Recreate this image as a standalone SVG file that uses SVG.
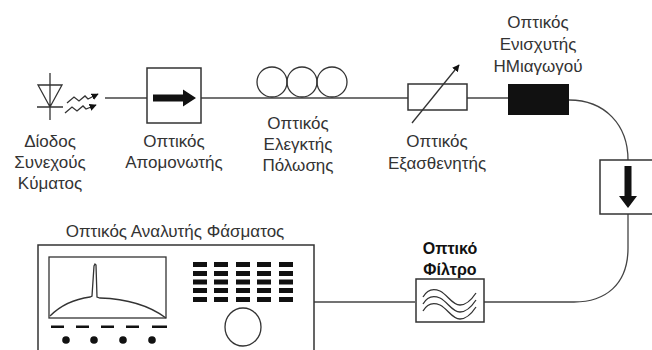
<svg xmlns="http://www.w3.org/2000/svg" width="652" height="350" viewBox="0 0 652 350">
  <style>
    .lbl { font-family: "Liberation Sans", Arial, sans-serif; font-size: 17px; fill: #333; text-anchor: middle; }
    .bold { font-weight: bold; fill: #111; font-size: 16px; }
    .wire { fill: none; stroke: #444; stroke-width: 1.3; }
    .box { fill: #fff; stroke: #333; stroke-width: 1.5; }
    .ink { fill: #111; }
    .thin { fill: none; stroke: #333; stroke-width: 1.3; }
  </style>
  <defs>
    <marker id="head" viewBox="0 0 10 10" refX="9" refY="5" markerWidth="5.5" markerHeight="5.5" orient="auto">
      <path d="M0,0 L10,5 L0,10 z" fill="#111"/>
    </marker>
  </defs>
  <rect width="652" height="350" fill="#fff"/>

  <!-- fibre connections -->
  <g id="connectors">
    <path class="wire" d="M105,98 H147"/>
    <path class="wire" d="M201,98 H408"/>
    <path class="wire" d="M467,98 H508"/>
    <path class="wire" d="M569,100 C605,100 628,125 628,160"/>
    <path class="wire" d="M628,214 V248 C628,285 605,302 574,302 H484"/>
    <path class="wire" d="M415,302 H314"/>
  </g>

  <!-- continuous-wave laser diode -->
  <g id="diode">
    <path class="thin" d="M50,73 V120 M38,85 H62 L50,107 Z M37,107 H63"/>
    <path class="thin" d="M67,103 L74,97 L79,101 L85,96 L88,99 L98,94" marker-end="url(#head)"/>
    <path class="thin" d="M65,113 L72,107 L77,111 L83,106 L86,109 L96,105" marker-end="url(#head)"/>
    <text class="lbl" x="50" y="147">Δίοδος</text>
    <text class="lbl" x="50" y="168">Συνεχούς</text>
    <text class="lbl" x="50" y="189">Κύματος</text>
  </g>

  <!-- optical isolator -->
  <g id="isolator">
    <rect class="box" x="147" y="68" width="54" height="55"/>
    <path class="ink" d="M153,94.5 H183 V89.5 L196,98 L183,106.5 V101.5 H153 Z"/>
    <text class="lbl" x="174" y="147">Οπτικός</text>
    <text class="lbl" x="174" y="168">Απομονωτής</text>
  </g>

  <!-- polarisation controller -->
  <g id="polarization-controller">
    <circle class="thin" cx="272" cy="82" r="15"/>
    <circle class="thin" cx="302" cy="82" r="15"/>
    <circle class="thin" cx="332" cy="82" r="15"/>
    <text class="lbl" x="298" y="129">Οπτικός</text>
    <text class="lbl" x="298" y="150">Ελεγκτής</text>
    <text class="lbl" x="298" y="171">Πόλωσης</text>
  </g>

  <!-- variable optical attenuator -->
  <g id="attenuator">
    <rect class="box" x="408" y="84" width="59" height="26"/>
    <path class="thin" d="M412,123 L459,65" marker-end="url(#head)"/>
    <text class="lbl" x="437" y="147">Οπτικός</text>
    <text class="lbl" x="437" y="169">Εξασθενητής</text>
  </g>

  <!-- semiconductor optical amplifier -->
  <g id="amplifier">
    <rect class="ink" x="508" y="84" width="61" height="31"/>
    <text class="lbl" x="538" y="28">Οπτικός</text>
    <text class="lbl" x="538" y="50">Ενισχυτής</text>
    <text class="lbl" x="538" y="72">ΗΜιαγωγού</text>
  </g>

  <!-- in-line isolator on the return path -->
  <g id="return-isolator">
    <rect class="box" x="600" y="160" width="60" height="54"/>
    <path class="ink" d="M624.5,166 H631.5 V196 H637 L628,208 L619,196 H624.5 Z"/>
  </g>

  <!-- optical band-pass filter -->
  <g id="filter">
    <rect class="box" x="416" y="279" width="68" height="43"/>
    <path class="thin" d="M423,297 C427,290 433,288 440,291 C448,295 452,305 460,305 C467,305 472,299 476,293"/>
    <path class="thin" d="M423,304 C427,297 433,295 440,298 C448,302 452,312 460,312 C467,312 472,306 476,300"/>
    <path class="thin" d="M423,311 C427,304 433,302 440,305 C448,309 452,319 460,319 C467,319 472,313 476,307"/>
    <text class="lbl bold" x="450" y="254">Οπτικό</text>
    <text class="lbl bold" x="450" y="275">Φίλτρο</text>
  </g>

  <!-- optical spectrum analyser -->
  <g id="spectrum-analyzer">
    <text class="lbl" x="175" y="237">Οπτικός Αναλυτής Φάσματος</text>
    <path class="box" d="M38,352 V245 H314 V352"/>
    <rect class="thin" x="49" y="257" width="117" height="61"/>
    <path class="thin" d="M50,316 C60,306 75,299 90,297 L92,296 L94,266 L95,264 L96,265 L97,297 L100,298 C130,299 150,306 166,318"/>
    <g class="ink">
      <rect x="51" y="325.5" width="13" height="2.5"/>
      <rect x="76" y="325.5" width="13" height="2.5"/>
      <rect x="101" y="325.5" width="13" height="2.5"/>
      <rect x="126" y="325.5" width="13" height="2.5"/>
      <rect x="152" y="325.5" width="15" height="2.5"/>
      <circle cx="66" cy="340" r="3.8"/>
      <circle cx="94" cy="340" r="3.8"/>
      <circle cx="123" cy="340" r="3.8"/>
      <circle cx="152" cy="340" r="3.8"/>
    </g>
    <g class="ink">
      <rect x="193" y="262" width="14" height="5"/><rect x="214" y="262" width="14" height="5"/><rect x="236" y="262" width="14" height="5"/><rect x="257" y="262" width="14" height="5"/><rect x="279" y="262" width="14" height="5"/>
      <rect x="193" y="271" width="14" height="5"/><rect x="214" y="271" width="14" height="5"/><rect x="236" y="271" width="14" height="5"/><rect x="257" y="271" width="14" height="5"/><rect x="279" y="271" width="14" height="5"/>
      <rect x="193" y="279.5" width="14" height="5"/><rect x="214" y="279.5" width="14" height="5"/><rect x="236" y="279.5" width="14" height="5"/><rect x="257" y="279.5" width="14" height="5"/><rect x="279" y="279.5" width="14" height="5"/>
      <rect x="193" y="288" width="14" height="5"/><rect x="214" y="288" width="14" height="5"/><rect x="236" y="288" width="14" height="5"/><rect x="257" y="288" width="14" height="5"/><rect x="279" y="288" width="14" height="5"/>
      <rect x="193" y="297" width="14" height="5"/><rect x="214" y="297" width="14" height="5"/><rect x="236" y="297" width="14" height="5"/><rect x="257" y="297" width="14" height="5"/><rect x="279" y="297" width="14" height="5"/>
    </g>
    <ellipse class="thin" cx="243" cy="327" rx="18" ry="19"/>
  </g>
</svg>
